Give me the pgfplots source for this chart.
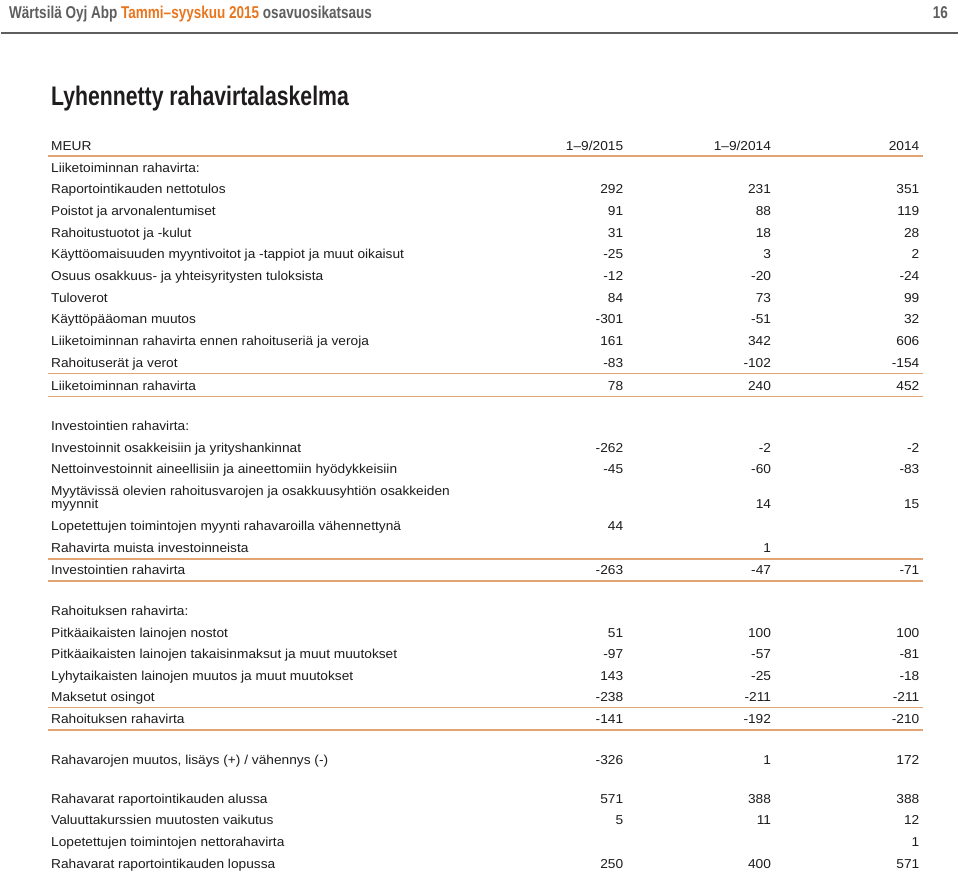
\documentclass[border=0pt]{standalone}
\usepackage{pgfplots}
\usepackage{pgfplotstable}
\pgfplotsset{compat=1.18}
\usepackage{fontspec}
\setmainfont{Liberation Sans}[FakeStretch=1.06]
\newfontfamily\cond[FakeStretch=0.79]{Liberation Sans Bold}
\definecolor{txt}{HTML}{1E1C1D}
\definecolor{hdrgray}{HTML}{5E5E5E}
\definecolor{wora}{HTML}{E8761E}
\definecolor{rule}{HTML}{E3A474}

% baseline (px from top) and value, one table per column
\pgfplotstableread{
y v
194 292
215.7 91
237.4 31
259.1 -25
280.8 -12
302.5 84
324.2 -301
345.9 161
367.6 -83
390.5 78
452.7 -262
474.2 -45
531.3 44
575 -263
637.7 51
659.3 -97
681 143
702.5 -238
724.2 -141
764.8 -326
804 571
825.7 5
869 250
}\colA
\pgfplotstableread{
y v
194 231
215.7 88
237.4 18
259.1 3
280.8 -20
302.5 73
324.2 -51
345.9 342
367.6 -102
390.5 240
452.7 -2
474.2 -60
509.5 14
553 1
575 -47
637.7 100
659.3 -57
681 -25
702.5 -211
724.2 -192
764.8 1
804 388
825.7 11
869 400
}\colB
\pgfplotstableread{
y v
194 351
215.7 119
237.4 28
259.1 2
280.8 -24
302.5 99
324.2 32
345.9 606
367.6 -154
390.5 452
452.7 -2
474.2 -83
509.5 15
575 -71
637.7 100
659.3 -81
681 -18
702.5 -211
724.2 -210
764.8 172
804 388
825.7 12
847.4 1
869 571
}\colC

\begin{document}
\begin{tikzpicture}
\begin{axis}[
    width=960bp, height=874bp, scale only axis,
    xmin=0, xmax=960, ymin=0, ymax=874,
    y dir=reverse, hide axis, clip=false,
    every node near coord/.append style={anchor=base east, inner sep=0pt,
        font=\fontsize{13}{15}\selectfont, text=txt},
]
% keep the whole page in the bounding box
\path (axis cs:0,0) rectangle (axis cs:960,874);
% page header
\draw[hdrgray, line width=2bp] (axis cs:0,33.5) -- (axis cs:958,33.5);
\node[anchor=base west, inner sep=0pt, font=\cond\fontsize{17.2}{20}\selectfont]
    at (axis cs:8,19) {\textcolor{hdrgray}{Wärtsilä Oyj Abp} \textcolor{wora}{Tammi–syyskuu 2015} \textcolor{hdrgray}{osavuosikatsaus}};
\node[anchor=base east, inner sep=0pt, font=\cond\fontsize{17.2}{20}\selectfont, text=hdrgray]
    at (axis cs:948,19) {16};
\node[anchor=base west, inner sep=0pt, font=\cond\fontsize{27}{30}\selectfont, text=txt]
    at (axis cs:50,106) {Lyhennetty rahavirtalaskelma};

% rules
\draw[rule, line width=1.5bp] (axis cs:47,156) -- (axis cs:923,156);
\draw[rule, line width=1.5bp] (axis cs:47,374) -- (axis cs:923,374);
\draw[rule, line width=1.5bp] (axis cs:47,397) -- (axis cs:923,397);
\draw[rule, line width=1.5bp] (axis cs:47,559.5) -- (axis cs:923,559.5);
\draw[rule, line width=1.5bp] (axis cs:47,581.7) -- (axis cs:923,581.7);
\draw[rule, line width=1.5bp] (axis cs:47,708.3) -- (axis cs:923,708.3);
\draw[rule, line width=1.5bp] (axis cs:47,730.7) -- (axis cs:923,730.7);

% column heads
\begin{scope}[every node/.style={anchor=base east, inner sep=0pt, font=\fontsize{13}{15}\selectfont, text=txt}]
\node at (axis cs:623,150.5) {1–9/2015};
\node at (axis cs:771,150.5) {1–9/2014};
\node at (axis cs:919.5,150.5) {2014};
\end{scope}

% row labels
\begin{scope}[every node/.style={anchor=base west, inner sep=0pt, font=\fontsize{13}{15}\selectfont, text=txt}]
\node at (axis cs:50,150.5) {MEUR};
\node at (axis cs:50,172.2) {Liiketoiminnan rahavirta:};
\node at (axis cs:50,194) {Raportointikauden nettotulos};
\node at (axis cs:50,215.7) {Poistot ja arvonalentumiset};
\node at (axis cs:50,237.4) {Rahoitustuotot ja -kulut};
\node at (axis cs:50,259.1) {Käyttöomaisuuden myyntivoitot ja -tappiot ja muut oikaisut};
\node at (axis cs:50,280.8) {Osuus osakkuus- ja yhteisyritysten tuloksista};
\node at (axis cs:50,302.5) {Tuloverot};
\node at (axis cs:50,324.2) {Käyttöpääoman muutos};
\node at (axis cs:50,345.9) {Liiketoiminnan rahavirta ennen rahoituseriä ja veroja};
\node at (axis cs:50,367.6) {Rahoituserät ja verot};
\node at (axis cs:50,390.5) {Liiketoiminnan rahavirta};
\node at (axis cs:50,431) {Investointien rahavirta:};
\node at (axis cs:50,452.7) {Investoinnit osakkeisiin ja yrityshankinnat};
\node at (axis cs:50,474.2) {Nettoinvestoinnit aineellisiin ja aineettomiin hyödykkeisiin};
\node at (axis cs:50,495.7) {Myytävissä olevien rahoitusvarojen ja osakkuusyhtiön osakkeiden};
\node at (axis cs:50,509.5) {myynnit};
\node at (axis cs:50,531.3) {Lopetettujen toimintojen myynti rahavaroilla vähennettynä};
\node at (axis cs:50,553) {Rahavirta muista investoinneista};
\node at (axis cs:50,575) {Investointien rahavirta};
\node at (axis cs:50,616) {Rahoituksen rahavirta:};
\node at (axis cs:50,637.7) {Pitkäaikaisten lainojen nostot};
\node at (axis cs:50,659.3) {Pitkäaikaisten lainojen takaisinmaksut ja muut muutokset};
\node at (axis cs:50,681) {Lyhytaikaisten lainojen muutos ja muut muutokset};
\node at (axis cs:50,702.5) {Maksetut osingot};
\node at (axis cs:50,724.2) {Rahoituksen rahavirta};
\node at (axis cs:50,764.8) {Rahavarojen muutos, lisäys (+) / vähennys (-)};
\node at (axis cs:50,804) {Rahavarat raportointikauden alussa};
\node at (axis cs:50,825.7) {Valuuttakurssien muutosten vaikutus};
\node at (axis cs:50,847.4) {Lopetettujen toimintojen nettorahavirta};
\node at (axis cs:50,869) {Rahavarat raportointikauden lopussa};
\end{scope}

% values
\addplot[draw=none, mark=none, nodes near coords, point meta=explicit symbolic,
    every node near coord/.append style={anchor=base east}]
    table[x expr=623, y=y, meta=v] {\colA};
\addplot[draw=none, mark=none, nodes near coords, point meta=explicit symbolic,
    every node near coord/.append style={anchor=base east}]
    table[x expr=771, y=y, meta=v] {\colB};
\addplot[draw=none, mark=none, nodes near coords, point meta=explicit symbolic,
    every node near coord/.append style={anchor=base east}]
    table[x expr=919.5, y=y, meta=v] {\colC};
\end{axis}
\end{tikzpicture}
\end{document}
